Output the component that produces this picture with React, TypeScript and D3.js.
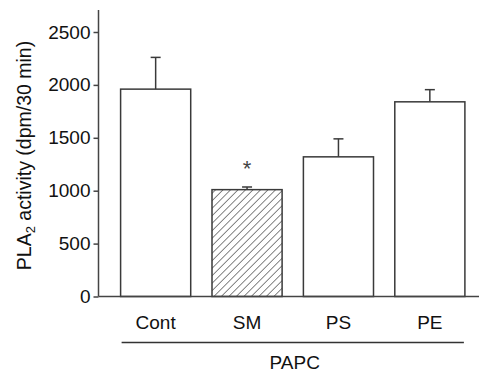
import React, { useRef, useEffect } from "react";
import * as d3 from "d3";

const categories = ["Cont", "SM", "PS", "PE"];
const means = [1960, 1010, 1320, 1840];
const errors = [300, 25, 170, 115];
const hatched = [false, true, false, false];
const yTicks = [0, 500, 1000, 1500, 2000, 2500];
const groupLabel = "PAPC";

const font = "Liberation Sans, Arial, sans-serif";

const App = () => {
  const svgRef = useRef<SVGSVGElement>(null);

  useEffect(() => {
    const width = 479;
    const height = 373;
    const svg = d3.select(svgRef.current);
    svg.selectAll("*").remove();
    svg.attr("width", width).attr("height", height);

    const axisLeft = 98.5;
    const y = d3.scaleLinear().domain([0, 2500]).range([296.5, 32]);
    const x = d3
      .scaleBand()
      .domain(categories)
      .range([110, 475.5])
      .paddingInner(0.233)
      .paddingOuter(0.116);

    const stroke = "#3a3a3a";

    // hatch pattern for SM bar
    const defs = svg.append("defs");
    defs
      .append("pattern")
      .attr("id", "hatch")
      .attr("patternUnits", "userSpaceOnUse")
      .attr("width", 5.3)
      .attr("height", 5.3)
      .attr("patternTransform", "rotate(45)")
      .append("line")
      .attr("x1", 0)
      .attr("y1", 0)
      .attr("x2", 0)
      .attr("y2", 5.3)
      .attr("stroke", "#333")
      .attr("stroke-width", 1.2);

    const data = categories.map((c, i) => ({
      c,
      v: means[i],
      e: errors[i],
      h: hatched[i],
    }));

    // error bars
    const eb = svg.append("g");
    data.forEach((d) => {
      const cx = x(d.c)! + x.bandwidth() / 2;
      eb.append("line")
        .attr("x1", cx)
        .attr("x2", cx)
        .attr("y1", y(d.v))
        .attr("y2", y(d.v + d.e))
        .attr("stroke", stroke)
        .attr("stroke-width", 1.5);
      eb.append("line")
        .attr("x1", cx - 5)
        .attr("x2", cx + 5)
        .attr("y1", y(d.v + d.e))
        .attr("y2", y(d.v + d.e))
        .attr("stroke", stroke)
        .attr("stroke-width", 1.5);
    });

    // bars
    svg
      .append("g")
      .selectAll("rect")
      .data(data)
      .enter()
      .append("rect")
      .attr("x", (d) => x(d.c)!)
      .attr("y", (d) => y(d.v))
      .attr("width", x.bandwidth())
      .attr("height", (d) => y(0) - y(d.v))
      .attr("fill", (d) => (d.h ? "url(#hatch)" : "#fff"))
      .attr("stroke", stroke)
      .attr("stroke-width", 1.5);

    // asterisk over SM
    svg
      .append("text")
      .attr("x", x("SM")! + x.bandwidth() / 2)
      .attr("y", y(1010) - 14)
      .attr("text-anchor", "middle")
      .attr("font-family", font)
      .attr("font-size", 22)
      .attr("fill", "#444")
      .text("*");

    // y axis
    const yAxis = svg
      .append("g")
      .attr("transform", `translate(${axisLeft},0)`)
      .call(
        d3
          .axisLeft(y)
          .tickValues(yTicks)
          .tickFormat(d3.format("d"))
          .tickSize(5)
          .tickSizeOuter(0)
          .tickPadding(3)
      );
    yAxis.select(".domain").remove();
    yAxis
      .append("line")
      .attr("x1", 0)
      .attr("x2", 0)
      .attr("y1", 10)
      .attr("y2", y(0))
      .attr("stroke", "#444")
      .attr("stroke-width", 1.5);
    yAxis.selectAll(".tick line").attr("stroke", "#444").attr("stroke-width", 1.5);
    yAxis
      .selectAll(".tick text")
      .attr("font-family", font)
      .attr("font-size", 19)
      .attr("fill", "#111");

    // x axis line
    svg
      .append("line")
      .attr("x1", axisLeft)
      .attr("x2", 479)
      .attr("y1", y(0))
      .attr("y2", y(0))
      .attr("stroke", "#444")
      .attr("stroke-width", 1.5);

    // category labels
    svg
      .append("g")
      .selectAll("text")
      .data(categories)
      .enter()
      .append("text")
      .attr("x", (d) => x(d)! + x.bandwidth() / 2)
      .attr("y", 329)
      .attr("text-anchor", "middle")
      .attr("font-family", font)
      .attr("font-size", 19)
      .attr("fill", "#111")
      .text((d) => d);

    // group line + label
    const gx1 = x("Cont")!;
    const gx2 = x("PE")! + x.bandwidth();
    svg
      .append("line")
      .attr("x1", gx1 + 1)
      .attr("x2", gx2 - 1)
      .attr("y1", 342.5)
      .attr("y2", 342.5)
      .attr("stroke", "#333")
      .attr("stroke-width", 1.5);
    svg
      .append("text")
      .attr("x", (gx1 + gx2) / 2 + 2)
      .attr("y", 369)
      .attr("text-anchor", "middle")
      .attr("font-family", font)
      .attr("font-size", 19)
      .attr("fill", "#111")
      .text(groupLabel);

    // y axis title
    const yt = svg
      .append("text")
      .attr("transform", `translate(31,155.5) rotate(-90)`)
      .attr("text-anchor", "middle")
      .attr("font-family", font)
      .attr("font-size", 19.5)
      .attr("fill", "#111");
    yt.append("tspan").text("PLA");
    yt.append("tspan").attr("font-size", 13).attr("dy", 4).text("2");
    yt.append("tspan").attr("dy", -4).text(" activity (dpm/30 min)");
  }, []);

  return (
    <div style={{ position: "absolute", left: 0, top: 0 }}>
      <svg ref={svgRef}></svg>
    </div>
  );
};

export default App;
